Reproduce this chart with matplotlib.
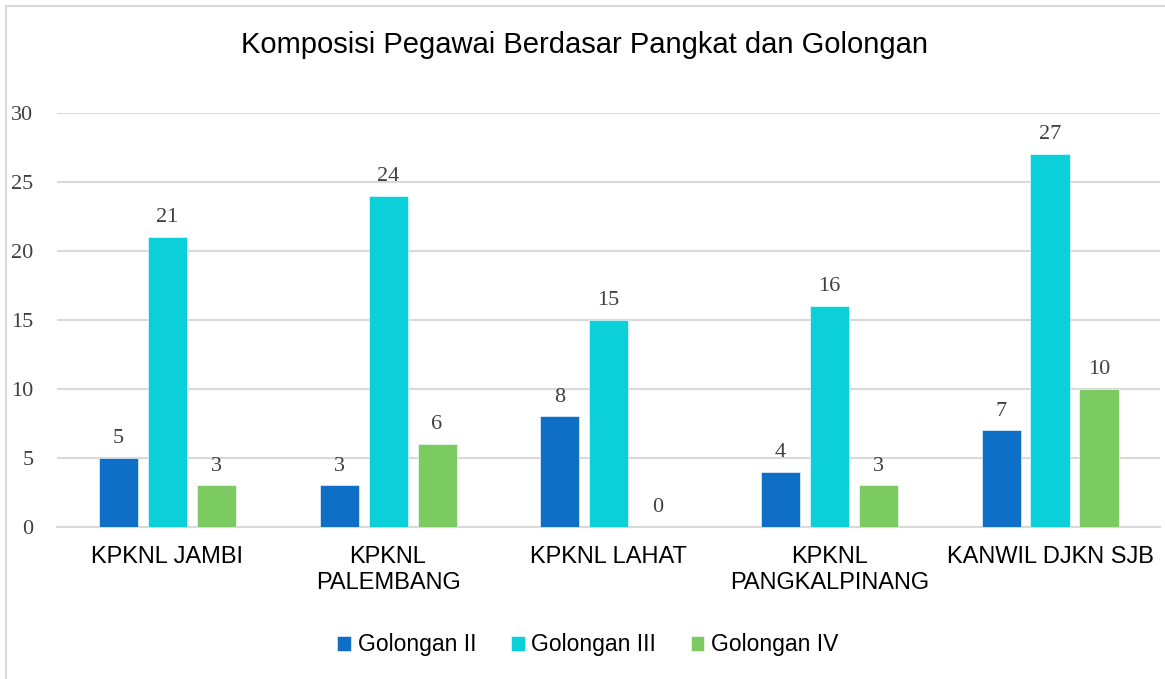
import numpy as np
import matplotlib.pyplot as plt
from matplotlib.lines import Line2D

categories = ['KPKNL JAMBI', 'KPKNL\nPALEMBANG', 'KPKNL LAHAT', 'KPKNL\nPANGKALPINANG', 'KANWIL DJKN SJB']
gol_2 = [5, 3, 8, 4, 7]
gol_3 = [21, 24, 15, 16, 27]
gol_4 = [3, 6, 0, 3, 10]
series_names = ['Golongan II', 'Golongan III', 'Golongan IV']

colors = ['#0F6FC6', '#0BD0D9', '#7CCA62']
num_font = 'Liberation Serif'
txt_font = 'Liberation Sans'

fig = plt.figure(figsize=(11.65, 6.79), dpi=100)
ax = fig.add_axes([0.049, 0.224, 0.947, 0.61])

x = np.arange(len(categories))
w = 0.177
step = 0.222
for i, (vals, name) in enumerate(zip([gol_2, gol_3, gol_4], series_names)):
    bars = ax.bar(x + (i - 1) * step, vals, width=w, color=colors[i], label=name,
                  edgecolor='white', linewidth=0.4, zorder=3)
    for b, v in zip(bars, vals):
        ax.annotate(str(v), (b.get_x() + b.get_width() / 2, v), xytext=(0, 7),
                    textcoords='offset points', ha='center', va='bottom',
                    fontsize=16, family=num_font, color='#404040')

ax.set_xlim(-0.5, len(categories) - 0.5)
ax.set_ylim(0, 30)
ax.set_yticks(range(0, 31, 5))
ax.yaxis.grid(True, color='#D9D9D9', linewidth=1.5, zorder=0)
ax.set_axisbelow(True)
for s in ['top', 'right', 'left']:
    ax.spines[s].set_visible(False)
ax.spines['bottom'].set_color('#D9D9D9')
ax.spines['bottom'].set_linewidth(1.5)
ax.tick_params(axis='both', length=0)
ax.tick_params(axis='y', pad=17)
ax.tick_params(axis='x', pad=14)
ax.set_xticks(x)
ax.set_xticklabels(categories, fontsize=17, family=txt_font, color='black', va='top')
for lab in ax.get_yticklabels():
    lab.set_family(num_font)
    lab.set_fontsize(16)
    lab.set_color('#404040')

fig.text(0.502, 0.934, 'Komposisi Pegawai Berdasar Pangkat dan Golongan',
         ha='center', va='center', fontsize=21, family=txt_font)

leg = fig.legend(loc='center', bbox_to_anchor=(588 / 1165, 1 - 645 / 679), ncol=3,
                 frameon=False, prop={'family': txt_font, 'size': 16.5},
                 handlelength=0.6, handleheight=0.6, handletextpad=0.3, columnspacing=1.5)

# chart frame (left and top edges visible)
fig.add_artist(Line2D([6 / 1165, 6 / 1165], [0, 1 - 6 / 679], color='#D9D9D9', linewidth=1.5))
fig.add_artist(Line2D([6 / 1165, 1], [1 - 6 / 679, 1 - 6 / 679], color='#D9D9D9', linewidth=1.5))

fig.savefig('out.png', dpi=100)
